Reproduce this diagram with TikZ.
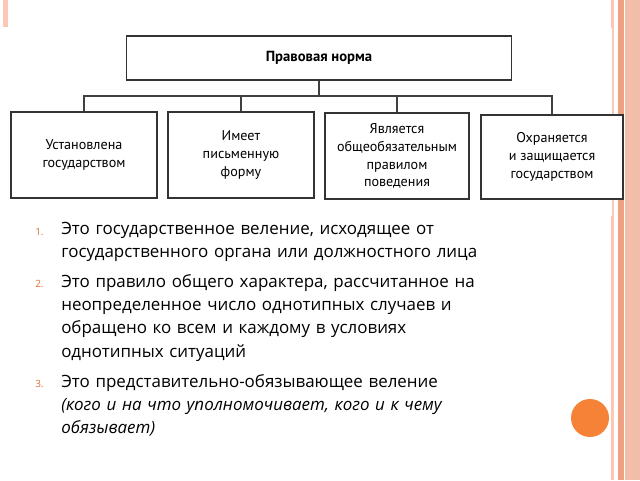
\documentclass[tikz,border=0pt]{standalone}
\usepackage{fontspec}
\setmainfont{Open Sans}
\newfontfamily\boxfont{PT Sans}
\definecolor{stripeA}{RGB}{250,200,180}
\definecolor{stripeB}{RGB}{240,160,130}
\definecolor{stripeC}{RGB}{242,190,170}
\definecolor{dotorange}{RGB}{245,130,55}
\definecolor{numorange}{RGB}{220,110,50}
\tikzset{
  scanbox/.style={draw=black!80,line width=1.3pt,fill=white,align=center,
    font=\boxfont\fontsize{10.6}{13.4}\selectfont,inner sep=2pt},
  branch/.style={draw=black!75,line width=0.9pt},
  item/.style={anchor=north west,align=left,inner sep=0pt,
    font=\fontsize{12.7}{17.5}\selectfont,text width=420pt},
  itemnum/.style={anchor=north west,inner sep=0pt,text=numorange,
    font=\fontsize{7.5}{9}\selectfont}
}
\begin{document}
\begin{tikzpicture}[x=0.75pt,y=-0.75pt]
  \useasboundingbox (0,0) rectangle (640,480);
  % slide decoration
  \fill[stripeA] (611,0) rectangle (614,480);
  \fill[stripeB] (618,0) rectangle (624,480);
  \fill[stripeC] (625,0) rectangle (640,480);
  \fill[stripeA] (3,0) rectangle (8,27);
  \fill[white] (0,28) rectangle (612,216);
  \fill[dotorange] (590,418) circle (19);
  % scheme
  \node[scanbox,minimum width=385*0.75pt,minimum height=44*0.75pt,
    font=\boxfont\bfseries\fontsize{11}{13}\selectfont] (norm) at (319,58) {Правовая норма};
  \node[scanbox,minimum width=146*0.75pt,minimum height=86*0.75pt] (state) at (84,155)
    {Установлена\\государством};
  \node[scanbox,minimum width=146*0.75pt,minimum height=86*0.75pt] (form) at (241,155)
    {Имеет\\письменную\\форму};
  \node[scanbox,minimum width=144*0.75pt,minimum height=86*0.75pt] (rule) at (397,156)
    {Является\\общеобязательным\\правилом\\поведения};
  \node[scanbox,minimum width=142*0.75pt,minimum height=84*0.75pt] (guard) at (552,157)
    {Охраняется\\и защищается\\государством};
  \coordinate (bar) at (319,96);
  \draw[branch] (norm.south) -- (bar);
  \draw[branch] (state.north) |- (bar) -| (guard.north);
  \draw[branch] (form.north) -- (form.north |- bar);
  \draw[branch] (rule.north) -- (rule.north |- bar);
  % list
  \node[itemnum] (n1) at (35,228) {1.};
  \node[item] (t1) at (61,222) {Это государственное веление, исходящее от\\государственного органа или должностного лица};
  \node[itemnum] (n2) at (35,280) {2.};
  \node[item] (t2) at (61,274) {Это правило общего характера, рассчитанное на\\неопределенное число однотипных случаев и\\обращено ко всем и каждому в условиях\\однотипных ситуаций};
  \node[itemnum] (n3) at (35,380) {3.};
  \node[item] (t3) at (61,374) {Это представительно-обязывающее веление\\\textit{(кого и на что уполномочивает, кого и к чему}\\\textit{обязывает)}};
\end{tikzpicture}
\end{document}
